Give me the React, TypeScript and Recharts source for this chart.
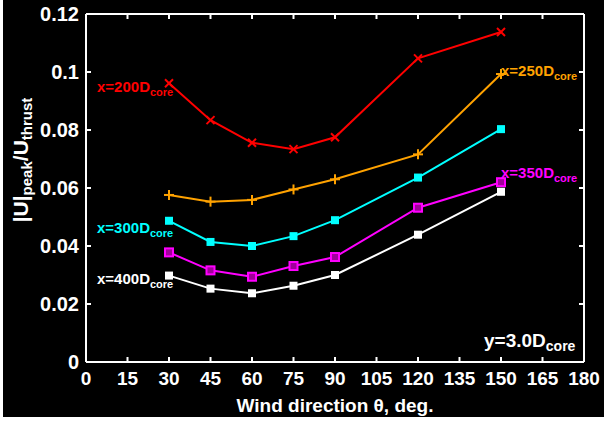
import { LineChart, Line, XAxis, YAxis, ReferenceLine } from 'recharts'

// wind direction (deg) and |U|peak/Uthrust for each downstream distance
const angles = [30, 45, 60, 75, 90, 120, 150]
const x200 = [0.0961, 0.0834, 0.0756, 0.0734, 0.0775, 0.1047, 0.1138]
const x250 = [0.0576, 0.0553, 0.0559, 0.0595, 0.063, 0.0716, 0.0993]
const x300 = [0.0487, 0.0414, 0.04, 0.0434, 0.0489, 0.0636, 0.0803]
const x350 = [0.0378, 0.0316, 0.0294, 0.0331, 0.0362, 0.0532, 0.062]
const x400 = [0.0298, 0.0253, 0.0237, 0.0263, 0.03, 0.0439, 0.0587]

const xTicks = [0, 15, 30, 45, 60, 75, 90, 105, 120, 135, 150, 165, 180]
const yTicks = [0, 0.02, 0.04, 0.06, 0.08, 0.1, 0.12]

const data = angles.map((a, i) => ({
  angle: a,
  x200: x200[i],
  x250: x250[i],
  x300: x300[i],
  x350: x350[i],
  x400: x400[i],
}))

const W = 604
const H = 421
const PLOT_LEFT = 86
const PLOT_RIGHT = 584
const PLOT_TOP = 14
const PLOT_BOTTOM = 362
const FONT = '"Liberation Sans", Arial, sans-serif'

function BottomTick(props: any) {
  const { x, payload } = props
  return (
    <g>
      <line x1={x} y1={PLOT_BOTTOM} x2={x} y2={PLOT_BOTTOM - 5} stroke="#fff" strokeWidth={2} />
      <line x1={x} y1={PLOT_TOP} x2={x} y2={PLOT_TOP + 5} stroke="#fff" strokeWidth={2} />
      <text x={x} y={PLOT_BOTTOM + 23} textAnchor="middle" fill="#fff" fontSize={19} fontWeight="bold" fontFamily={FONT}>
        {payload.value}
      </text>
    </g>
  )
}

function LeftTick(props: any) {
  const { y, payload } = props
  const label = String(Number(payload.value.toFixed(2)))
  return (
    <g>
      <line x1={PLOT_LEFT} y1={y} x2={PLOT_LEFT + 5} y2={y} stroke="#fff" strokeWidth={2} />
      <line x1={PLOT_RIGHT} y1={y} x2={PLOT_RIGHT - 5} y2={y} stroke="#fff" strokeWidth={2} />
      <text x={PLOT_LEFT - 7} y={y + 7} textAnchor="end" fill="#fff" fontSize={20} fontWeight="bold" fontFamily={FONT}>
        {label}
      </text>
    </g>
  )
}

function CrossDot(props: any) {
  const { cx, cy, stroke } = props
  const s = 4
  return (
    <g>
      <line x1={cx - s} y1={cy - s} x2={cx + s} y2={cy + s} stroke={stroke} strokeWidth={2} />
      <line x1={cx - s} y1={cy + s} x2={cx + s} y2={cy - s} stroke={stroke} strokeWidth={2} />
    </g>
  )
}

function PlusDot(props: any) {
  const { cx, cy, stroke } = props
  const s = 5
  return (
    <g>
      <line x1={cx - s} y1={cy} x2={cx + s} y2={cy} stroke={stroke} strokeWidth={2} />
      <line x1={cx} y1={cy - s} x2={cx} y2={cy + s} stroke={stroke} strokeWidth={2} />
    </g>
  )
}

function SquareDot(props: any) {
  const { cx, cy, stroke } = props
  return <rect x={cx - 4} y={cy - 4} width={8} height={8} fill={stroke} />
}

function OpenSquareDot(props: any) {
  const { cx, cy, stroke } = props
  return <rect x={cx - 4} y={cy - 4} width={8} height={8} fill="#a0009a" stroke={stroke} strokeWidth={2} />
}

function Note({ x, y, main, color, size = 15, sub = 11 }: any) {
  return (
    <text x={x} y={y} fill={color} fontSize={size} fontWeight="bold" fontFamily={FONT}>
      {main}
      <tspan fontSize={sub} dy={4}>core</tspan>
    </text>
  )
}

export default function App() {
  return (
    <div style={{ position: 'absolute', left: 0, top: 0, width: W, height: H, background: '#fff' }}>
      <div style={{ position: 'absolute', left: 3, top: 0, width: W - 3, height: H - 4, background: '#000' }} />
      <div style={{ position: 'absolute', left: 0, top: 0 }}>
        <LineChart width={W} height={H} data={data} margin={{ top: PLOT_TOP, right: W - PLOT_RIGHT, bottom: 0, left: 0 }}>
          <XAxis
            dataKey="angle"
            type="number"
            domain={[0, 180]}
            ticks={xTicks}
            interval={0}
            height={H - PLOT_BOTTOM}
            tickLine={false}
            tickSize={0}
            axisLine={{ stroke: '#fff', strokeWidth: 2 }}
            tick={<BottomTick />}
          />
          <YAxis
            type="number"
            domain={[0, 0.12]}
            ticks={yTicks}
            interval={0}
            width={PLOT_LEFT}
            tickLine={false}
            tickSize={0}
            axisLine={{ stroke: '#fff', strokeWidth: 2 }}
            tick={<LeftTick />}
          />
          <ReferenceLine y={0.12} stroke="#fff" strokeWidth={2} />
          <ReferenceLine x={180} stroke="#fff" strokeWidth={2} />
          <Line dataKey="x200" stroke="#ff0000" strokeWidth={2} dot={<CrossDot />} isAnimationActive={false} />
          <Line dataKey="x250" stroke="#ffa200" strokeWidth={2} dot={<PlusDot />} isAnimationActive={false} />
          <Line dataKey="x300" stroke="#00ffff" strokeWidth={2} dot={<SquareDot />} isAnimationActive={false} />
          <Line dataKey="x350" stroke="#ff00ff" strokeWidth={2} dot={<OpenSquareDot />} isAnimationActive={false} />
          <Line dataKey="x400" stroke="#ffffff" strokeWidth={2} dot={<SquareDot />} isAnimationActive={false} />
        </LineChart>
      </div>
      <svg width={W} height={H} style={{ position: 'absolute', left: 0, top: 0, pointerEvents: 'none' }}>
        <text transform="translate(28,160) rotate(-90)" textAnchor="middle" fill="#fff" fontSize={21} fontWeight="bold" fontFamily={FONT}>
          |U|<tspan fontSize={15} dy={4}>peak</tspan>
          <tspan dy={-4}>/U</tspan>
          <tspan fontSize={15} dy={4}>thrust</tspan>
        </text>
        <Note x={97} y={92} main="x=200D" color="#ff0000" />
        <Note x={501} y={76} main="x=250D" color="#ffa200" />
        <Note x={97} y={233} main="x=300D" color="#00ffff" />
        <Note x={501} y={178} main="x=350D" color="#ff00ff" />
        <Note x={97} y={284} main="x=400D" color="#ffffff" />
        <Note x={484} y={347} main="y=3.0D" color="#ffffff" size={19} sub={14} />
        <text x={(PLOT_LEFT + PLOT_RIGHT) / 2} y={412} textAnchor="middle" fill="#fff" fontSize={19} fontWeight="bold" fontFamily={FONT}>
          Wind direction θ, deg.
        </text>
      </svg>
    </div>
  )
}
